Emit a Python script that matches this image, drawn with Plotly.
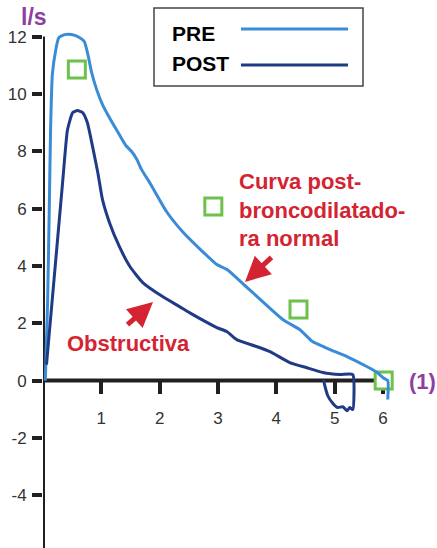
import plotly.graph_objects as go

# ---------------- data ----------------
pre_x = [0.04, 0.08, 0.11, 0.13, 0.16, 0.22, 0.27, 0.37, 0.49, 0.63, 0.71, 0.77, 0.83, 0.92,
         1.02, 1.14, 1.28, 1.42, 1.52, 1.61, 1.69, 1.84, 2.12, 2.39, 2.70, 2.98, 3.16, 3.54,
         4.11, 4.40, 4.62, 4.80, 4.92, 5.21, 5.55, 5.73, 5.83, 5.91, 5.91]
pre_y = [0.0, 2.83, 6.3, 8.75, 10.67, 11.55, 11.96, 12.07, 12.07, 11.96, 11.82, 11.37, 10.78, 10.15,
         9.63, 9.17, 8.68, 8.2, 7.99, 7.71, 7.36, 6.87, 5.89, 5.2, 4.57, 4.05, 3.87, 3.17,
         2.13, 1.78, 1.36, 1.19, 1.08, 0.84, 0.49, 0.28, 0.10, 0.0, -0.66]

post_x = [0.06, 0.34, 0.42, 0.51, 0.59, 0.68, 0.76, 0.85, 0.94, 1.02, 1.14, 1.31, 1.49, 1.71,
          2.05, 2.34, 2.51, 2.98, 3.15, 3.32, 3.66, 3.89, 4.23, 4.52, 4.80, 5.09, 5.31,
          5.31, 5.26, 5.21, 5.14, 5.05, 4.97, 4.88, 4.83, 4.81]
post_y = [0.56, 7.0, 8.75, 9.35, 9.42, 9.35, 9.0, 8.16, 7.25, 6.31, 5.51, 4.67, 3.98, 3.42,
          2.93, 2.58, 2.37, 1.85, 1.71, 1.43, 1.19, 1.01, 0.63, 0.45, 0.28, 0.21, 0.21,
          -1.01, -0.94, -1.05, -0.91, -0.94, -0.80, -0.52, -0.17, 0.03]

marker_x = [0.58, 2.92, 4.38, 5.84]
marker_y = [10.85, 6.07, 2.48, 0.0]

y_ticks = [12, 10, 8, 6, 4, 2, 0, -2, -4]
y_tick_text = ["12", "10", "8", "6", "4", "2", "0", "-2", "-4"]
x_tick_vals = [1, 2, 3, 4, 5, 5.83]
x_tick_text = ["1", "2", "3", "4", "5", "6"]

legend_names = ["PRE", "POST"]

# ---------------- style ----------------
PRE_COLOR = "#3B8CD6"
POST_COLOR = "#1F3A86"
GREEN = "#6CC24A"
RED = "#D42331"
PURPLE = "#8E3FA0"
AXIS = "#231F20"
FONT = "Liberation Sans"

X_RANGE = [0, 6.6]
Y_RANGE = [-5.84, 12.3]
W, H = 437, 548
ML, MR, MT, MB = 43, 9, 28, 0
PW, PH = W - ML - MR, H - MT - MB


def px(xp):
    return (xp - ML) / PW


def py(yp):
    return (H - MB - yp) / PH


fig = go.Figure()

fig.add_trace(go.Scatter(
    x=marker_x, y=marker_y, mode="markers", showlegend=False, hoverinfo="skip",
    marker=dict(symbol="square", size=17, color="white",
                line=dict(color=GREEN, width=3))))

fig.add_trace(go.Scatter(
    x=pre_x, y=pre_y, mode="lines", name=legend_names[0], showlegend=False,
    line=dict(color=PRE_COLOR, width=3, shape="spline", smoothing=0.5)))

fig.add_trace(go.Scatter(
    x=post_x, y=post_y, mode="lines", name=legend_names[1], showlegend=False,
    line=dict(color=POST_COLOR, width=3, shape="spline", smoothing=0.5)))

x_pos = (0 - Y_RANGE[0]) / (Y_RANGE[1] - Y_RANGE[0])

shapes = [
    # axes
    dict(type="line", xref="x", yref="y", x0=0, x1=0, y0=12, y1=Y_RANGE[0],
         line=dict(color=AXIS, width=4), layer="below"),
    dict(type="line", xref="x", yref="y", x0=0, x1=5.84, y0=0, y1=0,
         line=dict(color=AXIS, width=4), layer="below"),
    # legend box
    dict(type="rect", xref="paper", yref="paper", x0=px(154), x1=px(363),
         y0=py(86), y1=py(8), line=dict(color="#444444", width=1.5),
         fillcolor="rgba(0,0,0,0)"),
    dict(type="line", xref="paper", yref="paper", x0=px(241), x1=px(348),
         y0=py(29), y1=py(29), line=dict(color=PRE_COLOR, width=3)),
    dict(type="line", xref="paper", yref="paper", x0=px(241), x1=px(348),
         y0=py(65), y1=py(65), line=dict(color=POST_COLOR, width=3)),
]

annotations = [
    dict(text="<b>" + legend_names[0] + "</b>", xref="paper", yref="paper",
         x=px(170), y=py(34), xanchor="left", yanchor="middle", showarrow=False,
         font=dict(family=FONT, size=21, color="black")),
    dict(text="<b>" + legend_names[1] + "</b>", xref="paper", yref="paper",
         x=px(170), y=py(64), xanchor="left", yanchor="middle", showarrow=False,
         font=dict(family=FONT, size=21, color="black")),
    dict(text="<b>l/s</b>", xref="paper", yref="paper", x=px(34), y=py(17),
         xanchor="center", yanchor="middle", showarrow=False,
         font=dict(family=FONT, size=23, color=PURPLE)),
    dict(text="<b>(1)</b>", xref="paper", yref="paper", x=px(422), y=py(381),
         xanchor="center", yanchor="middle", showarrow=False,
         font=dict(family=FONT, size=22, color=PURPLE)),
    dict(text="<b>Curva post-<br>broncodilatado-<br>ra normal</b>", xref="paper", yref="paper",
         x=px(237), y=py(210), xanchor="left", yanchor="middle", align="left",
         showarrow=False, font=dict(family=FONT, size=22, color=RED)),
    dict(text="<b>Obstructiva</b>", xref="paper", yref="paper",
         x=px(128.5), y=py(343), xanchor="center", yanchor="middle",
         showarrow=False, font=dict(family=FONT, size=22, color=RED)),
    dict(text="", xref="paper", yref="paper", x=px(245), y=py(282),
         ax=28, ay=-26, showarrow=True, arrowhead=2, arrowsize=1.0,
         arrowwidth=5, arrowcolor=RED),
    dict(text="", xref="paper", yref="paper", x=px(153), y=py(302),
         ax=-27, ay=24, showarrow=True, arrowhead=2, arrowsize=1.0,
         arrowwidth=5, arrowcolor=RED),
]

fig.update_layout(
    width=W, height=H,
    margin=dict(l=ML, r=MR, t=MT, b=MB),
    paper_bgcolor="white", plot_bgcolor="white",
    showlegend=False,
    shapes=shapes, annotations=annotations,
    xaxis=dict(range=X_RANGE, showgrid=False, zeroline=False, showline=False,
               anchor="free", position=x_pos,
               tickmode="array", tickvals=x_tick_vals, ticktext=x_tick_text,
               ticks="outside", ticklen=12, tickwidth=4, tickcolor=AXIS,
               ticklabelstandoff=10, layer="below traces",
               tickfont=dict(family=FONT, size=17, color="#333333")),
    yaxis=dict(range=Y_RANGE, showgrid=False, zeroline=False, showline=False,
               tickmode="array", tickvals=y_ticks, ticktext=y_tick_text,
               ticks="outside", ticklen=10, tickwidth=4, tickcolor=AXIS,
               ticklabelstandoff=2,
               tickfont=dict(family=FONT, size=17, color="#333333")),
)

fig.write_html("out.html", config={"displayModeBar": False},
               post_script="document.body.style.margin='0';document.body.style.padding='0';")
